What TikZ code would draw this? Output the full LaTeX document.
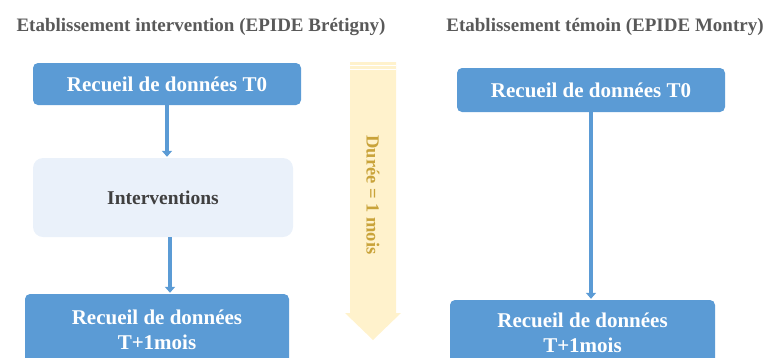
\documentclass[tikz,border=0pt]{standalone}
\usepackage{fontspec}
\setmainfont{Liberation Serif}
\usetikzlibrary{arrows.meta,positioning,calc}
\definecolor{boxblue}{HTML}{5B9BD5}
\definecolor{paleblue}{HTML}{EAF1FA}
\definecolor{titlegray}{HTML}{595959}
\definecolor{interkgray}{HTML}{404040}
\definecolor{paleyellow}{HTML}{FFF2CC}
\definecolor{golden}{HTML}{C9A33A}

\begin{document}
\begin{tikzpicture}[x=1pt,y=-1pt,
 bluebox/.style={fill=boxblue, rounded corners=5pt, text=white, align=center,
  font=\bfseries\fontsize{21}{25}\selectfont, inner sep=0pt},
 lightbox/.style={fill=paleblue, rounded corners=10pt, text=interkgray,
  font=\bfseries\fontsize{19.5}{23}\selectfont, inner sep=0pt},
 heading/.style={text=titlegray, font=\bfseries\fontsize{19}{23}\selectfont},
 flow/.style={draw=boxblue, line width=3.5pt, -{Triangle[width=10pt,length=6pt]}, shorten >=1pt}]
 \useasboundingbox (0,0) rectangle (776,357);
 % titres
 \node[heading] (hl) at (201,27) {Etablissement intervention (EPIDE Brétigny)};
 \node[heading] (hr) at (605,27) {Etablissement témoin (EPIDE Montry)};
 % duree
 \fill[paleyellow] (350,62) -- (396,62) -- (396,313) -- (401,313) -- (373,340)
  -- (345,313) -- (350,313) -- cycle;
 \draw[white, line width=1pt] (350,65) -- (396,65) (350,69) -- (396,69);
 \node[rotate=-90, text=golden, font=\bfseries\fontsize{18.5}{22}\selectfont] (duree) at (373,195) {Durée = 1 mois};
 % groupe intervention
 \node[bluebox, minimum width=268pt, minimum height=42pt] (t0l) at (167,84) {Recueil de données T0};
 \node[lightbox, minimum width=260pt, minimum height=79pt] (interv) at (163,197.5) {Interventions};
 \node[bluebox, minimum width=264pt, minimum height=72pt] (t1l) at (157,330) {Recueil de données\\T+1mois};
 % groupe temoin
 \node[bluebox, minimum width=268pt, minimum height=44pt] (t0r) at (591,90) {Recueil de données T0};
 \node[bluebox, minimum width=265pt, minimum height=66pt] (t1r) at (582.5,333) {Recueil de données\\T+1mois};
 \draw[flow] (t0l.south) -- (t0l.south |- interv.north);
 \draw[flow] ($(interv.south)+(7,0)$) -- ($(interv.south |- t1l.north)+(7,0)$);
 \draw[flow] (t0r.south) -- (t0r.south |- t1r.north);
\end{tikzpicture}
\end{document}
